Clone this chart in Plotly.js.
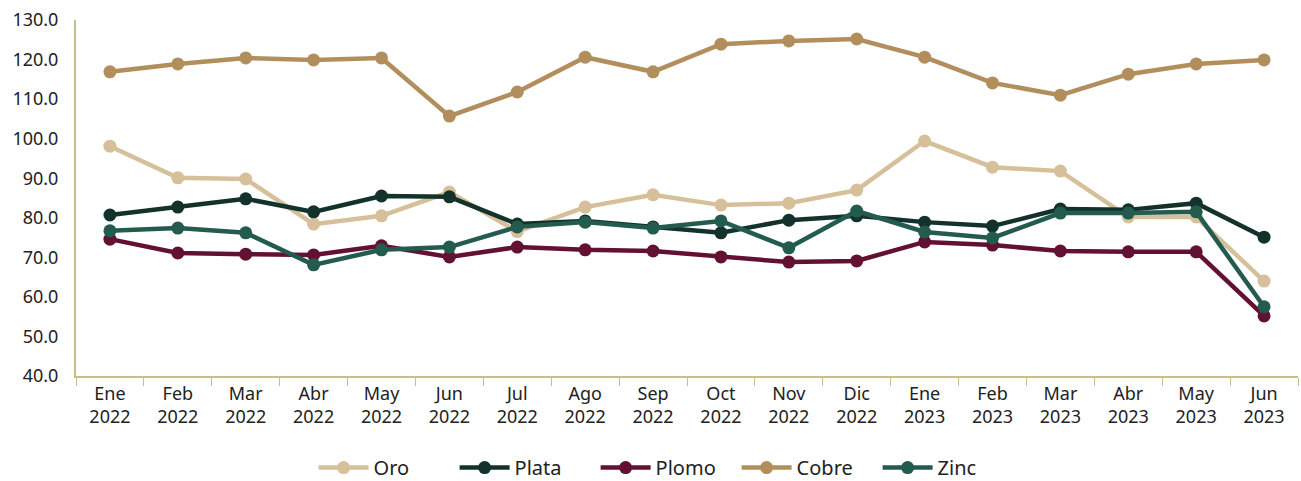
<!DOCTYPE html>
<html><head><meta charset="utf-8">
<script src="https://cdn.plot.ly/plotly-3.0.1.min.js"></script>
<style>html,body{margin:0;padding:0;background:#fff}#c{width:1301px;height:481px}</style>
</head><body><div id="c"></div>
<script>
const categories = ["Ene<br>2022","Feb<br>2022","Mar<br>2022","Abr<br>2022","May<br>2022","Jun<br>2022","Jul<br>2022","Ago<br>2022","Sep<br>2022","Oct<br>2022","Nov<br>2022","Dic<br>2022","Ene<br>2023","Feb<br>2023","Mar<br>2023","Abr<br>2023","May<br>2023","Jun<br>2023"];
const oro   = [98.1,90.1,89.8,78.4,80.5,86.5,76.5,82.7,85.8,83.2,83.7,87.0,99.4,92.8,91.8,80.2,80.2,64.0];
const plata = [80.7,82.7,84.8,81.5,85.5,85.3,78.4,79.2,77.7,76.2,79.4,80.5,78.9,77.9,82.2,82.0,83.7,75.1];
const plomo = [74.6,71.1,70.8,70.6,72.9,70.1,72.6,71.9,71.6,70.1,68.8,69.1,73.9,73.1,71.6,71.4,71.4,55.2];
const cobre = [116.9,118.9,120.4,119.9,120.4,105.7,111.8,120.6,116.9,123.9,124.7,125.2,120.6,114.1,111.0,116.3,118.9,119.9];
const zinc  = [76.7,77.4,76.2,68.1,71.9,72.6,77.7,78.9,77.4,79.2,72.4,81.7,76.4,74.9,81.2,81.2,81.5,57.5];
const seriesNames = ["Oro","Plata","Plomo","Cobre","Zinc"];
const seriesData = [oro,plata,plomo,cobre,zinc];
const colors = ["#D5C09A","#13322B","#621132","#B38E5D","#235B4E"];
const traces = seriesData.map((d,i)=>({
  type:"scatter", mode:"lines+markers", name:seriesNames[i], x:categories, y:d,
  line:{color:colors[i], width:4.5}, marker:{color:colors[i], size:13}
}));
const layout = {
  width:1301, height:481,
  margin:{l:76,r:3,t:20,b:105},
  paper_bgcolor:"#fff", plot_bgcolor:"#fff",
  font:{family:"Noto Sans, sans-serif", color:"#222", size:18},
  showlegend:true,
  legend:{orientation:"h", xref:"container", x:0.512, xanchor:"center", yref:"container", y:0.028, yanchor:"middle",
          font:{size:20}, traceorder:"normal", itemwidth:50, entrywidth:76, entrywidthmode:"pixels"},
  xaxis:{type:"category", range:[-0.5,17.5], autorange:false, showgrid:false, showline:true, linecolor:"#C9BC8F", linewidth:2,
         ticks:"outside", tickson:"boundaries", ticklen:8, tickcolor:"#C9BC8F", tickfont:{size:18}, zeroline:false, automargin:false},
  yaxis:{range:[40,130], autorange:false, dtick:10, tickformat:".1f", showgrid:false, showline:true, linecolor:"#C9BC8F", linewidth:2,
         ticks:"", ticklabelstandoff:12, tickfont:{size:18}, zeroline:false, automargin:false}
};
Plotly.newPlot("c", traces, layout, {displayModeBar:false, staticPlot:true});
</script></body></html>
